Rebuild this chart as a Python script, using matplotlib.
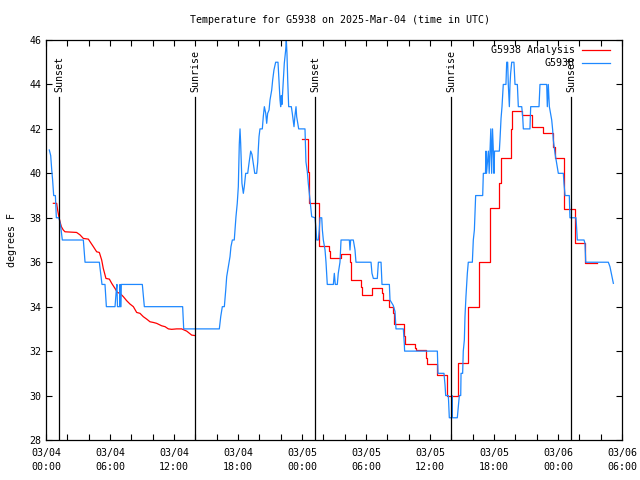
import numpy as np
import matplotlib
matplotlib.use("Agg")
import matplotlib.pyplot as plt

plt.rcParams['font.family'] = ['DejaVu Sans Mono']

# hours since 03/04 00:00 UTC
obs_hours = [0.31, 0.44, 0.53, 0.62, 0.72, 0.88, 0.97, 1.22, 1.38, 1.53, 3.5, 3.66, 5.0, 5.13, 5.25,
             5.53, 5.66, 6.47, 6.6, 6.65, 6.7, 6.9, 6.94, 6.97, 7.03, 7.06, 9.03, 9.22, 12.81, 12.91,
             16.25, 16.38, 16.53, 16.72, 16.85, 16.94, 17.09, 17.25, 17.34, 17.47, 17.65, 17.72, 17.81,
             17.93, 18.03, 18.12, 18.19, 18.25, 18.37, 18.5, 18.59, 18.72, 18.91, 19.03, 19.19, 19.31,
             19.43, 19.57, 19.75, 19.85, 19.9, 19.97, 20.06, 20.28, 20.37, 20.47, 20.6, 20.69, 20.78,
             20.91, 21.0, 21.16, 21.25, 21.37, 21.53, 21.75, 21.84, 21.94, 22.0, 22.06, 22.12, 22.25,
             22.34, 22.47, 22.53, 22.59, 22.66, 22.75, 23.0, 23.09, 23.25, 23.34, 23.44, 23.5, 23.6,
             23.69, 24.28, 24.37, 24.5, 24.59, 24.75, 24.91, 25.22, 25.31, 25.38, 25.53, 25.62, 25.69,
             25.85, 25.91, 26.0, 26.16, 26.25, 26.31, 26.37, 26.94, 27.03, 27.12, 27.31, 27.4, 27.56,
             27.66, 28.44, 28.5, 28.56, 28.81, 28.97, 29.06, 30.47, 30.56, 30.69, 31.06, 31.16, 31.41,
             31.5, 32.19, 32.25, 32.56, 32.72, 32.81, 33.5, 33.59, 33.62, 36.69, 36.75, 37.31, 37.41,
             37.47, 37.72, 37.81, 38.03, 38.06, 38.1, 38.56, 38.66, 38.75, 38.88, 38.91, 39.06, 39.12,
             39.22, 39.28, 39.37, 39.5, 39.59, 39.97, 40.06, 40.16, 40.28, 40.94, 41.0, 41.2, 41.25,
             41.3, 41.47, 41.55, 41.62, 41.7, 41.78, 41.86, 41.94, 42.0, 42.05, 42.5, 42.56, 42.66,
             42.75, 42.87, 43.12, 43.19, 43.28, 43.34, 43.44, 43.5, 43.56, 43.66, 43.87, 43.97, 44.19,
             44.28, 44.6, 44.69, 44.75, 45.37, 45.44, 46.22, 46.31, 46.94, 47.0, 47.09, 47.19, 47.41,
             47.5, 47.56, 47.72, 47.87, 48.03, 48.5, 48.56, 48.66, 49.06, 49.12, 49.69, 49.81, 50.44,
             50.53, 50.6, 52.72, 52.87, 53.03, 53.19]
obs_temps = [41.05, 40.8, 40.2, 39.7, 39.0, 39.0, 38.0, 38.0, 37.6, 37.0, 37.0, 36.0, 36.0, 35.5, 35.0,
             35.0, 34.0, 34.0, 34.8, 35.0, 34.0, 34.0, 35.0, 34.0, 34.0, 35.0, 35.0, 34.0, 34.0, 33.0,
             33.0, 33.55, 34.0, 34.0, 34.75, 35.35, 35.8, 36.25, 36.7, 37.0, 37.0, 37.45, 38.05,
             38.65, 39.4, 41.3, 42.0, 41.35, 39.55, 39.1, 39.4, 40.0, 40.0, 40.45, 41.0, 40.85,
             40.45, 40.0, 40.0, 40.5, 41.05, 41.65, 42.0, 42.0, 42.55, 43.0, 42.7, 42.25, 42.7,
             42.85, 43.3, 43.75, 44.2, 44.65, 45.0, 45.0, 44.2, 43.3, 43.0, 43.5, 43.1, 44.2,
             44.95, 45.55, 46.0, 45.4, 44.2, 43.0, 43.0, 42.7, 42.1, 42.6, 43.0, 42.55, 42.25,
             42.0, 42.0, 40.52, 40.07, 39.55, 38.8, 38.05, 38.0, 37.52, 37.0, 37.0, 37.45, 38.0,
             38.0, 37.45, 37.0, 36.55, 36.0, 35.5, 35.0, 35.0, 35.5, 35.0, 35.0, 35.5, 36.0,
             37.0, 37.0, 36.55, 37.0, 37.0, 36.55, 36.0, 36.0, 35.5, 35.27, 35.27, 36.0, 36.0,
             35.0, 35.0, 34.3, 34.05, 33.78, 33.0, 33.0, 32.35, 32.0, 32.0, 31.0, 31.0, 30.47,
             30.0, 30.0, 29.0, 29.0, 30.0, 29.0, 29.0, 29.5, 30.0, 30.0, 31.0, 31.0, 32.0,
             32.5, 33.55, 34.45, 35.5, 36.0, 36.0, 37.0, 37.45, 39.0, 39.0, 40.0, 40.0, 41.0,
             40.0, 41.0, 40.0, 41.0, 42.0, 40.0, 42.0, 41.0, 40.0, 41.0, 41.0, 41.5, 42.47,
             43.0, 44.0, 44.0, 45.0, 45.0, 44.0, 43.0, 44.0, 44.5, 45.0, 45.0, 44.0, 44.0,
             43.0, 43.0, 42.55, 42.0, 42.0, 43.0, 43.0, 44.0, 44.0, 43.0, 44.0, 43.0, 42.4,
             41.95, 41.5, 40.9, 40.45, 40.0, 40.0, 39.55, 39.0, 39.0, 38.0, 38.0, 37.0, 37.0,
             36.85, 36.0, 36.0, 35.8, 35.42, 35.05]

# analysis, first night (fine time steps)
ana1_hours = [0.69, 1.0, 1.09, 1.22, 1.31, 1.44, 1.62, 1.78, 2.87, 3.19, 3.5, 3.97, 4.12, 4.44, 4.75,
              5.0, 5.22, 5.37, 5.62, 5.94, 6.16, 6.47, 6.69, 6.94, 7.25, 7.56, 7.87, 8.19, 8.5, 8.81,
              9.12, 9.44, 9.75, 10.06, 10.37, 10.84, 11.16, 11.47, 11.78, 12.25, 12.72, 13.19, 13.66,
              13.97]
ana1_temps = [38.65, 38.65, 38.35, 38.02, 37.83, 37.6, 37.45, 37.37, 37.34, 37.23, 37.07, 37.04, 36.93,
              36.7, 36.47, 36.44, 36.1, 35.72, 35.27, 35.24, 35.05, 34.82, 34.64, 34.6, 34.45, 34.27,
              34.12, 34.0, 33.74, 33.7, 33.55, 33.44, 33.32, 33.29, 33.25, 33.14, 33.1, 33.0, 32.98,
              33.0, 33.0, 32.9, 32.72, 32.7]

# analysis, second day (hourly steps)
ana2_hours = [23.97, 24.56, 24.66, 25.55, 25.62, 26.56, 26.62, 27.62, 28.5, 28.62, 29.56, 29.62, 30.55,
              31.5, 31.62, 32.19, 32.56, 32.62, 33.59, 33.66, 34.6, 34.66, 35.6, 35.69, 36.63, 36.69,
              37.56, 37.62, 38.62, 39.59, 40.6, 41.6, 42.5, 42.62, 43.56, 43.66, 44.6, 45.58, 46.58,
              47.56, 47.72, 48.56, 49.56, 50.56, 51.62]
ana2_temps = [41.53, 40.07, 38.65, 37.68, 36.73, 36.5, 36.18, 36.35, 36.0, 35.2, 34.9, 34.52, 34.82,
              34.6, 34.3, 34.0, 33.7, 33.22, 32.7, 32.3, 32.15, 32.05, 31.7, 31.42, 31.1, 30.93,
              30.5, 30.0, 31.45, 34.0, 36.0, 38.43, 39.55, 40.68, 42.0, 42.82, 42.62, 42.07, 41.8,
              41.2, 40.68, 38.38, 36.85, 35.95, 35.95]

sun_hours = [1.22, 13.97, 25.22, 37.97, 49.22]
sun_labels = ['Sunset', 'Sunrise', 'Sunset', 'Sunrise', 'Sunset']

xtick_hours = [0, 6, 12, 18, 24, 30, 36, 42, 48, 54]
xtick_labels = ['03/04\n00:00', '03/04\n06:00', '03/04\n12:00', '03/04\n18:00', '03/05\n00:00',
                '03/05\n06:00', '03/05\n12:00', '03/05\n18:00', '03/06\n00:00', '03/06\n06:00']

fig = plt.figure(figsize=(6.4, 4.8), dpi=100)
ax = fig.add_axes([46/640, 40/480, 576/640, 400/480])

fs = 7.2
red = '#ff0000'
blue = '#1e88ff'
ax.plot(ana1_hours, ana1_temps, color=red, lw=0.9)
ax.plot(ana2_hours, ana2_temps, color=red, lw=0.9, drawstyle='steps-post')
ax.plot(obs_hours, obs_temps, color=blue, lw=0.9)

for h, lab in zip(sun_hours, sun_labels):
    ax.plot([h, h], [28, 43.45], color='black', lw=0.9)
    ax.text(h, 43.65, lab, rotation=90, ha='center', va='bottom', fontsize=fs)

ax.set_xlim(0, 54)
ax.set_ylim(28, 46)
ax.set_xticks(xtick_hours)
ax.set_xticklabels(xtick_labels, fontsize=fs, linespacing=1.5)
ax.set_xticks(np.arange(0, 55, 2), minor=True)
ax.set_yticks(np.arange(28, 47, 2))
ax.tick_params(axis='y', labelsize=fs)
ax.tick_params(axis='x', pad=6)
ax.tick_params(which='both', direction='in', top=True, right=True, length=4, width=0.8)
for sp in ax.spines.values():
    sp.set_linewidth(0.9)

# legend drawn by hand, gnuplot style
ax.text(0.918, 0.975, 'G5938 Analysis', transform=ax.transAxes, ha='right', va='center', fontsize=fs)
ax.plot([0.931, 0.979], [0.975, 0.975], transform=ax.transAxes, color=red, lw=0.9)
ax.text(0.918, 0.9425, 'G5938', transform=ax.transAxes, ha='right', va='center', fontsize=fs)
ax.plot([0.931, 0.979], [0.9425, 0.9425], transform=ax.transAxes, color=blue, lw=0.9)

fig.text(0.531, 0.958, 'Temperature for G5938 on 2025-Mar-04 (time in UTC)', ha='center', va='center', fontsize=fs)
fig.text(0.019, 0.5, 'degrees F', rotation=90, ha='center', va='center', fontsize=fs)

fig.savefig('out.png', dpi=100)
